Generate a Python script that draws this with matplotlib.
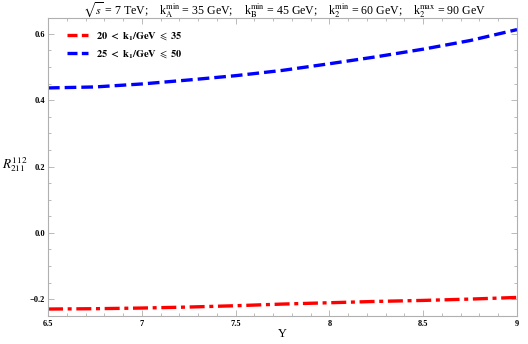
import numpy as np
import matplotlib
matplotlib.use('Agg')
import matplotlib.pyplot as plt
from matplotlib.lines import Line2D
from matplotlib.ticker import MultipleLocator

plt.rcParams['font.family'] = ['Liberation Serif', 'DejaVu Serif']
plt.rcParams['mathtext.fontset'] = 'stix'

# values
rapidity = [6.5, 6.75, 7.0, 7.25, 7.5, 7.75, 8.0, 8.25, 8.5, 8.75, 9.0]
r_20_35 = [-0.230, -0.229, -0.227, -0.224, -0.220, -0.215, -0.211, -0.207, -0.204, -0.200, -0.195]
r_25_50 = [0.437, 0.440, 0.449, 0.461, 0.474, 0.490, 0.510, 0.531, 0.554, 0.580, 0.613]
labels = [r'$\mathbf{20\ <\ k_1/GeV}\ \leqslant\ \mathbf{35}$',
          r'$\mathbf{25\ <\ k_1/GeV}\ \leqslant\ \mathbf{50}$']

fig = plt.figure(figsize=(5.28, 3.44), dpi=100)
ax = fig.add_axes([48/528, 1 - 316/344, (517 - 48)/528, (316 - 18)/344])

ax.plot(rapidity, r_20_35, color='#ff0000', lw=2.4, dashes=(4.5, 1.4, 1.2, 1.4))
ax.plot(rapidity, r_25_50, color='#0000ff', lw=2.4, dashes=(3.5, 1.5))

handles = [Line2D([], [], color='#ff0000', lw=2.4, dashes=(3.0, 1.3)),
           Line2D([], [], color='#0000ff', lw=2.4, dashes=(3.0, 1.3))]
ax.legend(handles, labels, loc='upper left', bbox_to_anchor=(0.02, 0.99),
          frameon=False, fontsize=7.5, handlelength=2.0, handletextpad=0.8,
          labelspacing=0.55)

ax.set_xlim(6.5, 9)
ax.set_ylim(-0.251, 0.648)
ax.set_xticks([6.5, 7, 7.5, 8, 8.5, 9])
ax.set_xticklabels(['6.5', '7', '7.5', '8', '8.5', '9'])
ax.set_yticks([-0.2, 0.0, 0.2, 0.4, 0.6])
ax.set_yticklabels(['\u22120.2', '0.0', '0.2', '0.4', '0.6'])
ax.xaxis.set_minor_locator(MultipleLocator(0.1))
ax.yaxis.set_minor_locator(MultipleLocator(0.05))

for s in ax.spines.values():
    s.set_color('#b0b0b0')
    s.set_linewidth(0.8)
ax.tick_params(which='both', direction='in', top=True, right=True, color='#b0b0b0', width=0.6)
ax.tick_params(which='major', length=4, labelsize=6)
ax.tick_params(axis='y', which='major', pad=2)
ax.tick_params(axis='x', which='major', pad=3)
ax.tick_params(which='minor', length=2)
for t in ax.get_xticklabels() + ax.get_yticklabels():
    t.set_fontweight('bold')

# axis labels placed like the reference
fig.text(282/528, 1 - 334/344, 'Y', fontsize=9, ha='center', va='center')
fig.text(15/528, 1 - 165/344, r'$R^{112}_{211}$', fontsize=9.5, ha='center', va='center')

fig.text(284/528, 1 - 10/344,
         r'$\sqrt{s}$ = 7 TeV;    k$_\mathrm{A}^\mathrm{min}$ = 35 GeV;    '
         r'k$_\mathrm{B}^\mathrm{min}$ = 45 GeV;    k$_2^\mathrm{min}$ = 60 GeV;    '
         r'k$_2^\mathrm{max}$ = 90 GeV', fontsize=8.6, ha='center', va='center')

fig.savefig('out.png', dpi=100)
